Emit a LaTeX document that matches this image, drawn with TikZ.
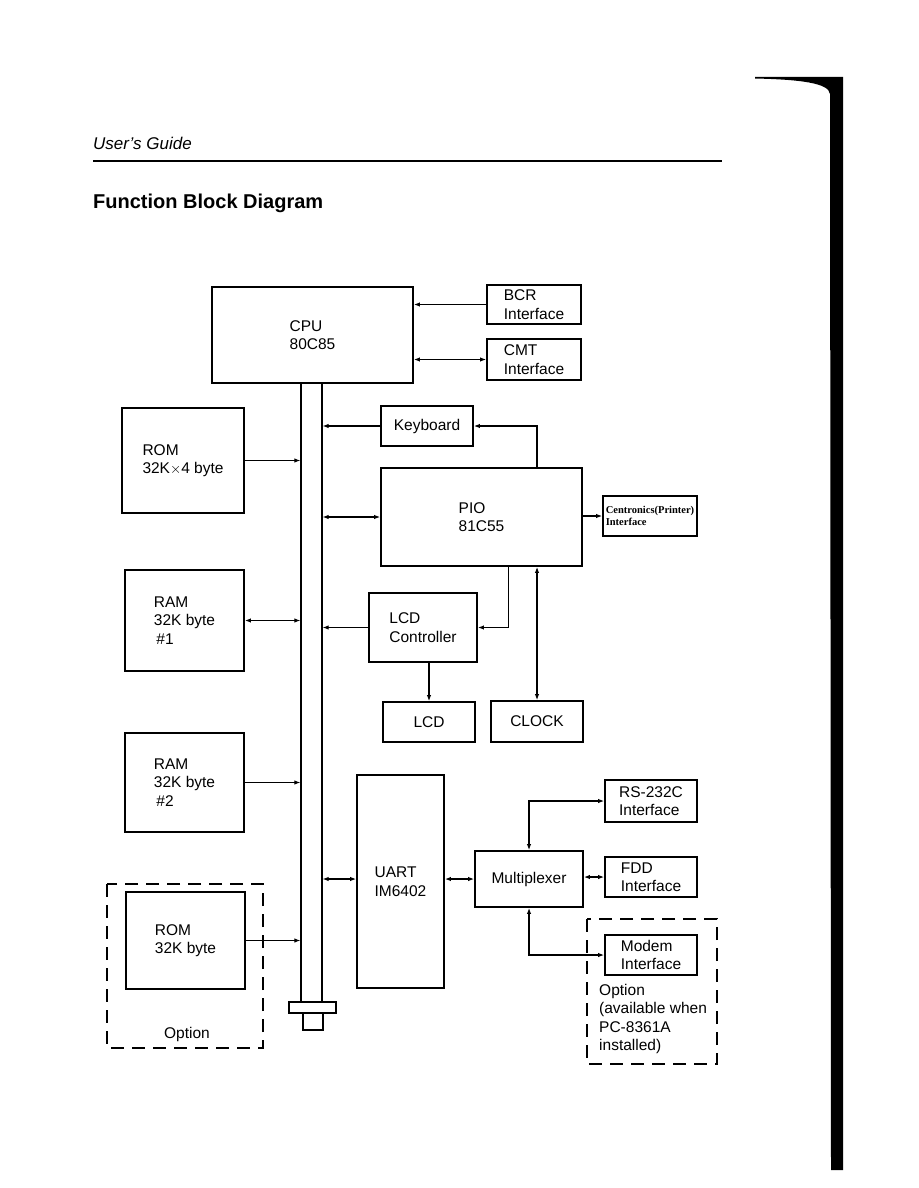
\documentclass[tikz,border=0pt]{standalone}
\usepackage{fontspec}
\setmainfont{Liberation Sans}
\newfontfamily\centfont{Liberation Serif}
\usetikzlibrary{arrows.meta, positioning, calc}
\tikzset{
    % Block styles
    blockbox/.style={
        rectangle,
        draw=black,
        line width=1.9pt,
        inner sep=0pt,
        align=left,
        font=\fontsize{15.5}{18.5}\selectfont
    },
    busbox/.style={
        rectangle,
        draw=black,
        line width=1.3pt,
        inner sep=0pt
    },
    optionframe/.style={
        draw=black,
        line width=1.1pt,
        dash pattern=on 13pt off 8pt
    },
    plaintext/.style={
        inner sep=0pt,
        align=left,
        font=\fontsize{15.5}{18.5}\selectfont
    },
    % Arrow styles
    onearrow/.style={
        -{Latex[length=6pt,width=4.5pt]},
        line width=1.1pt
    },
    twoarrow/.style={
        {Latex[length=6pt,width=4.5pt]}-{Latex[length=6pt,width=4.5pt]},
        line width=1.1pt
    }
}
\begin{document}
\begin{tikzpicture}[x=1pt, y=-1pt]
            \useasboundingbox (0,0) rectangle (918,1188);
            \fill[white] (0,0) rectangle (918,1188);

            % Page header
            \node[anchor=west, inner sep=0pt, font=\fontsize{17}{20}\selectfont\itshape] (guide) at (93,143) {User’s Guide};
            \draw[line width=1.1pt] (93,161) -- (722,161);
            \node[anchor=west, inner sep=0pt, font=\fontsize{20}{24}\selectfont\bfseries] (title) at (93,203) {Function Block Diagram};

            % CPU and its interfaces
            \node[blockbox, minimum width=201pt, minimum height=96pt] (cpu) at (312.5,335) {CPU\\80C85};
            \node[blockbox, minimum width=94pt, minimum height=39pt] (bcr) at (534,304.5) {BCR\\Interface};
            \node[blockbox, minimum width=94pt, minimum height=41pt] (cmt) at (534,359.5) {CMT\\Interface};

            % Bus
            \node[busbox, minimum width=21pt, minimum height=619pt] (bus) at (311.5,692.5) {};
            \node[busbox, minimum width=47pt, minimum height=11pt] (plug) at (312.5,1007.5) {};
            \node[busbox, minimum width=20pt, minimum height=17pt] (pin) at (313,1021.5) {};

            % Memory (left)
            \node[blockbox, minimum width=122pt, minimum height=105pt] (rom) at (183,460.5) {ROM\\32K$\times$4 byte};
            \node[blockbox, minimum width=119pt, minimum height=101pt] (ramone) at (184.5,620.5) {RAM\\32K byte\\\,\#1};
            \node[blockbox, minimum width=119pt, minimum height=99pt] (ramtwo) at (184.5,782.5) {RAM\\32K byte\\\,\#2};
            \node[blockbox, minimum width=119pt, minimum height=97pt] (romopt) at (185.5,940.5) {ROM\\32K byte};
            \draw[optionframe] (107,884) rectangle (263,1048);
            \node[plaintext] (romoptlabel) at (187,1034) {Option};

            % Peripherals (right)
            \node[blockbox, minimum width=92pt, minimum height=40pt] (kbd) at (427,426) {Keyboard};
            \node[blockbox, minimum width=201pt, minimum height=98pt] (pio) at (481.5,517) {PIO\\81C55};
            \node[blockbox, minimum width=94pt, minimum height=40pt, font=\centfont\fontsize{10.5}{12}\selectfont\bfseries] (cent) at (650,516) {Centronics(Printer)\\Interface};
            \node[blockbox, minimum width=108pt, minimum height=69pt] (lcdc) at (423,627.5) {LCD\\Controller};
            \node[blockbox, minimum width=92pt, minimum height=40pt] (lcd) at (429,722) {LCD};
            \node[blockbox, minimum width=92pt, minimum height=41pt] (clock) at (537,721.5) {CLOCK};

            % Serial part
            \node[blockbox, minimum width=87pt, minimum height=213pt] (uart) at (400.5,881.5) {UART\\IM6402};
            \node[blockbox, minimum width=108pt, minimum height=56pt] (mux) at (529,879) {Multiplexer};
            \node[blockbox, minimum width=92pt, minimum height=42pt] (rs) at (651,801) {RS-232C\\Interface};
            \node[blockbox, minimum width=92pt, minimum height=40pt] (fdd) at (651,877) {FDD\\Interface};
            \node[blockbox, minimum width=92pt, minimum height=40pt] (modem) at (651,955) {Modem\\Interface};
            \draw[optionframe] (587,919) rectangle (717,1064);
            \node[plaintext, anchor=north west] (modemnote) at (599,984) {Option\\(available when\\PC-8361A\\installed)};

            % Connections to CPU
            \draw[onearrow] (bcr.west) -- (bcr.west -| cpu.east);
            \draw[twoarrow] (cmt.west) -- (cmt.west -| cpu.east);

            % Connections to bus
            \draw[onearrow] (rom.east) -- (rom.east -| bus.west);
            \draw[twoarrow] (ramone.east) -- (ramone.east -| bus.west);
            \draw[onearrow] (ramtwo.east) -- (ramtwo.east -| bus.west);
            \draw[onearrow] (romopt.east) -- (romopt.east -| bus.west);
            \draw[onearrow] (kbd.west) -- (kbd.west -| bus.east);
            \draw[twoarrow] (pio.west -| bus.east) -- (pio.west);
            \draw[onearrow] (lcdc.west) -- (lcdc.west -| bus.east);
            \draw[twoarrow] (bus.east |- mux.west) -- (uart.west |- mux.west);

            % PIO links
            \draw[onearrow] (pio.north -| clock.north) |- (kbd.east);
            \draw[onearrow] (cent.west -| pio.east) -- (cent.west);
            \draw[twoarrow] (pio.south -| clock.north) -- (clock.north);
            \draw[onearrow] ($(pio.south west)!0.635!(pio.south east)$) |- (lcdc.east);
            \draw[onearrow] (lcd.north |- lcdc.south) -- (lcd.north);

            % Multiplexer links
            \draw[twoarrow] (uart.east |- mux.west) -- (mux.west);
            \draw[twoarrow] (mux.north) |- (rs.west);
            \draw[twoarrow] (mux.east |- fdd.west) -- (fdd.west);
            \draw[twoarrow] (mux.south) |- (modem.west);

            % Binding edge
            \fill[black] (755,77) -- (843,77) -- (843,1170) -- (831,1170) -- (830,94) .. controls (829,83) and (800,79.5) .. (755,78.5) -- cycle;
        \end{tikzpicture}
\end{document}
